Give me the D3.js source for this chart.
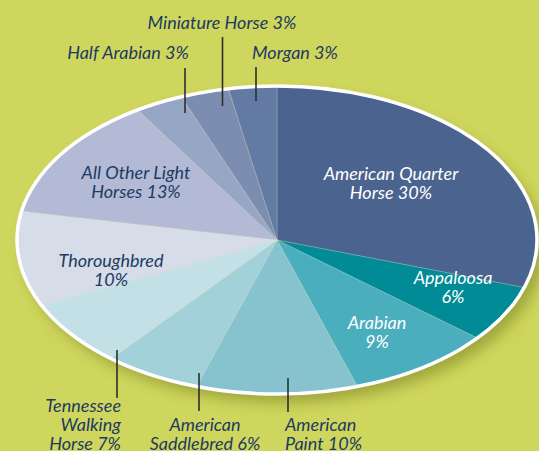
<!DOCTYPE html>
<html><head><meta charset="utf-8">
<script src="https://cdn.jsdelivr.net/npm/d3@7"></script>
<style>
html,body{margin:0;padding:0;background:#cfd65d;}
svg{display:block;}
text{font-family:Lato,"Open Sans",sans-serif;font-style:italic;font-size:18px;}
</style></head><body>
<svg id="c" width="539" height="451"></svg>
<script>
// Data
const breeds = ["American Quarter Horse","Appaloosa","Arabian","American Paint","American Saddlebred","Tennessee Walking Horse","Thoroughbred","All Other Light Horses","Half Arabian","Miniature Horse","Morgan"];
const shares = [30, 6, 9, 10, 6, 7, 10, 13, 3, 3, 3];
const labelLines = [
  ["American Quarter","Horse 30%"],
  ["Appaloosa","6%"],
  ["Arabian","9%"],
  ["American","Paint 10%"],
  ["American","Saddlebred 6%"],
  ["Tennessee","Walking","Horse 7%"],
  ["Thoroughbred","10%"],
  ["All Other Light","Horses 13%"],
  ["Half Arabian 3%"],
  ["Miniature Horse 3%"],
  ["Morgan 3%"]
];

// Styles / layout
const colors = ["#4b638f","#008b96","#4aaebd","#86c3cf","#a3d1d9","#c2e0e5","#d6dce8","#b3bad5","#96a6c4","#7b8db0","#637ba2"];
const cx = 277, cy = 240, rx = 260, ry = 154;
// label layout: [x, firstBaseline, anchor, colour, leader [x, y1, y2] or null]
const layout = [
  [391,180,"middle","#ffffff",null],
  [453,284,"middle","#ffffff",null],
  [377,329,"middle","#ffffff",null],
  [285,431,"start","#1d3a63",[288,378,412]],
  [205,431,"middle","#1d3a63",[199,373,411]],
  [121,412,"end","#1d3a63",[117,350,398]],
  [111,267,"middle","#1d3a63",null],
  [136,179,"middle","#1d3a63",null],
  [128,59,"middle","#1d3a63",[185,68,113]],
  [222,29,"middle","#1d3a63",[222.5,37,106]],
  [295,59,"middle","#1d3a63",[256,67,101]]
];
const lineH = 19;

const svg = d3.select("#c");
const defs = svg.append("defs");
const f = defs.append("filter").attr("id","sh").attr("x","-20%").attr("y","-20%").attr("width","140%").attr("height","140%");
f.append("feGaussianBlur").attr("stdDeviation",7);

const data = breeds.map((b,i)=>({breed:b, value:shares[i], i}));
const pie = d3.pie().sort(null).value(d=>d.value).startAngle(0).endAngle(2*Math.PI);
const arc = d3.arc().innerRadius(0).outerRadius(1);

// shadow
svg.append("ellipse").attr("cx",cx+7).attr("cy",cy+9).attr("rx",rx).attr("ry",ry)
  .attr("fill","#8f9630").attr("opacity",0.75).attr("filter","url(#sh)");

const g = svg.append("g").attr("transform",`translate(${cx},${cy}) scale(${rx},${ry})`);
g.selectAll("path").data(pie(data)).join("path")
  .attr("d",arc)
  .attr("fill",d=>colors[d.data.i])
  .attr("stroke","rgba(255,255,255,0.35)")
  .attr("stroke-width",0.6)
  .attr("vector-effect","non-scaling-stroke");

svg.append("ellipse").attr("cx",cx).attr("cy",cy).attr("rx",rx).attr("ry",ry)
  .attr("fill","none").attr("stroke","#ffffff").attr("stroke-width",3.5);

// leaders
const lg = svg.append("g");
layout.forEach(l=>{
  if(l[4]) lg.append("line").attr("x1",l[4][0]).attr("x2",l[4][0]).attr("y1",l[4][1]).attr("y2",l[4][2])
    .attr("stroke","#2e2e2e").attr("stroke-width",1.6);
});

// labels
const tg = svg.append("g");
data.forEach(d=>{
  const l = layout[d.i];
  const t = tg.append("text").attr("x",l[0]).attr("y",l[1]).attr("text-anchor",l[2]).attr("fill",l[3]);
  labelLines[d.i].forEach((s,k)=>{
    t.append("tspan").attr("x",l[0]).attr("y",l[1]+k*lineH).text(s);
  });
});
</script>
</body></html>
